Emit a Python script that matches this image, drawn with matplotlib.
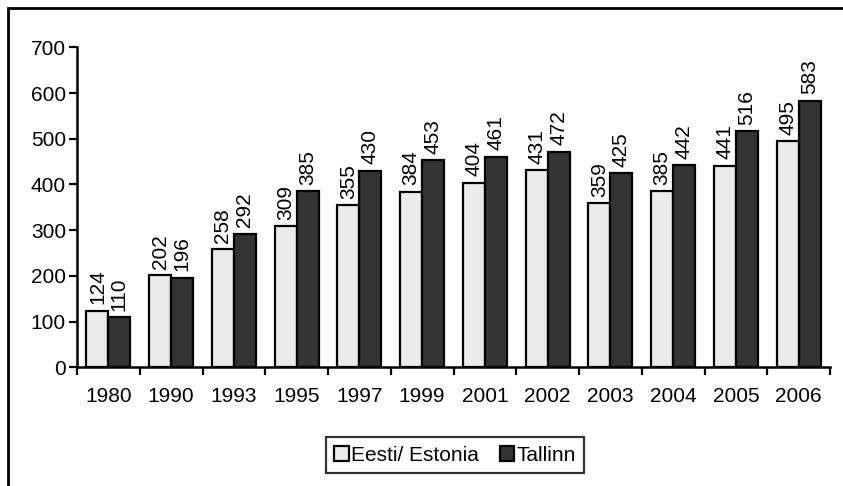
import matplotlib
matplotlib.use("Agg")
import matplotlib.pyplot as plt
import numpy as np
from matplotlib.patches import Rectangle

years = ["1980", "1990", "1993", "1995", "1997", "1999", "2001", "2002", "2003", "2004", "2005", "2006"]
estonia = [124, 202, 258, 309, 355, 384, 404, 431, 359, 385, 441, 495]
tallinn = [110, 196, 292, 385, 430, 453, 461, 472, 425, 442, 516, 583]
series_names = ["Eesti/ Estonia", "Tallinn"]

plt.rcParams['font.family'] = ['Liberation Sans', 'DejaVu Sans']
FS = 15

fig = plt.figure(figsize=(8.43, 4.86), dpi=100)
ax = fig.add_axes([77/843, 1-367.3/486, (830-77)/843, (367.3-47.3)/486])

x = np.arange(len(years))
w = 0.35
b1 = ax.bar(x - w/2, estonia, w, color='#EBEBEB', edgecolor='black', linewidth=1.6, label=series_names[0])
b2 = ax.bar(x + w/2, tallinn, w, color='#333333', edgecolor='black', linewidth=1.6, label=series_names[1])

for bars, vals in ((b1, estonia), (b2, tallinn)):
    for r, v in zip(bars, vals):
        ax.text(r.get_x() + r.get_width()/2, v + 14, str(v), rotation=90,
                ha='center', va='bottom', fontsize=FS)

ax.set_xlim(-0.5, len(years) - 0.5)
ax.set_ylim(0, 700)
ax.set_yticks(range(0, 701, 100))
ax.set_xticks(np.arange(len(years) + 1) - 0.5)
ax.set_xticklabels([])
ax.set_xticks(x, minor=True)
ax.set_xticklabels(years, minor=True)
ax.tick_params(axis='x', which='minor', length=0, labelsize=FS, pad=14)
ax.tick_params(axis='x', which='major', length=6, width=1.6, direction='out')
ax.tick_params(axis='y', length=6, width=1.6, labelsize=FS, pad=2)
for s in ('top', 'right'):
    ax.spines[s].set_visible(False)
for s in ('left', 'bottom'):
    ax.spines[s].set_linewidth(1.8)

leg = fig.legend(handles=[b1, b2], loc='center', bbox_to_anchor=(455/843, 1-455/486),
                 ncol=2, fontsize=FS, frameon=True, fancybox=False, edgecolor='black',
                 handlelength=0.7, handleheight=0.7, handletextpad=0.1, columnspacing=1.0,
                 borderpad=0.4, borderaxespad=0)
leg.get_frame().set_linewidth(1.6)

fig.patches.append(Rectangle((8/843, -0.1), 1.2, 1 - 8/486 + 0.1, transform=fig.transFigure,
                             fill=False, edgecolor='black', linewidth=2.0))

fig.savefig("out.png", dpi=100)
